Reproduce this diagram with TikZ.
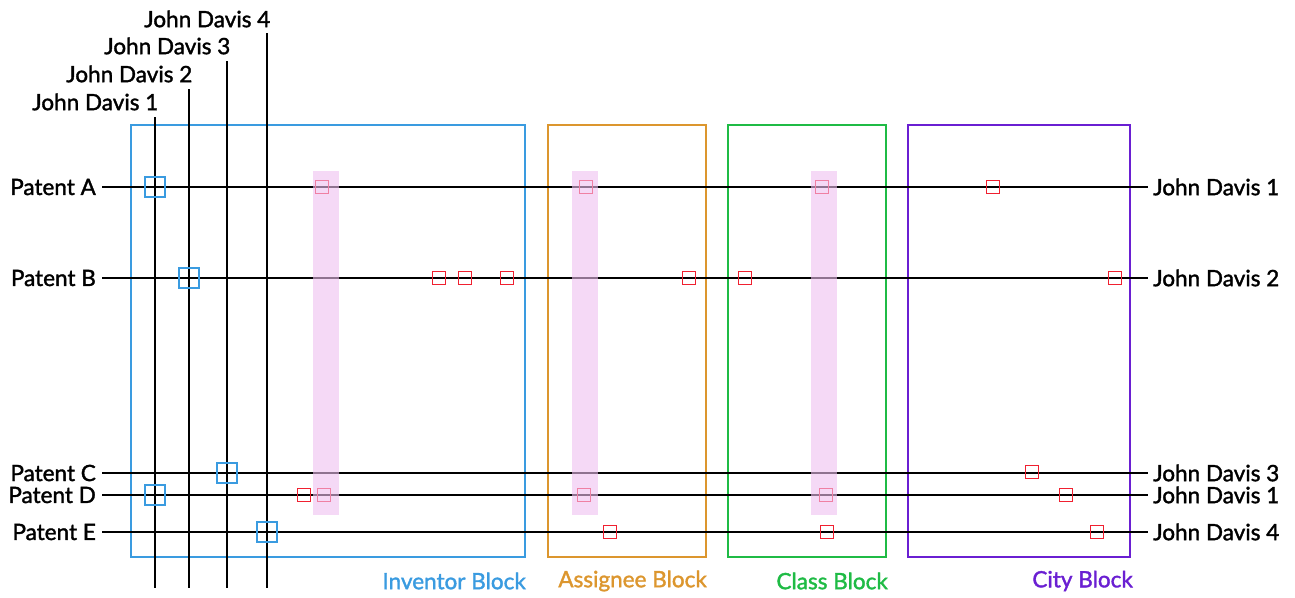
\documentclass[tikz,border=0pt]{standalone}
\usepackage{fontspec}
\setmainfont{Lato}[FakeBold=1.6]
\definecolor{invblue}{HTML}{3A9BE0}
\definecolor{assorange}{HTML}{DC962E}
\definecolor{clsgreen}{HTML}{1FBB45}
\definecolor{citypurple}{HTML}{6A1FD2}
\definecolor{hitred}{HTML}{F02030}
\definecolor{bandpink}{HTML}{EFC0F0}
\begin{document}
\begin{tikzpicture}[x=1pt,y=-1pt,
  lbl/.style={font=\fontsize{22.5}{22.5}\selectfont, inner sep=0pt},
  thread/.style={line width=2.6pt, black},
  blockbox/.style={line width=2.2pt},
  blocklbl/.style={font=\fontsize{22.5}{22.5}\selectfont, inner sep=0pt, anchor=east},
  invmark/.style={draw=invblue, line width=2pt, minimum size=20pt, inner sep=0pt},
  hitmark/.style={draw=hitred, line width=1.8pt, minimum size=13pt, inner sep=0pt},
  band/.style={fill=bandpink, opacity=0.6}]
\useasboundingbox (0,0) rectangle (1295,597);

% blocks
\draw[blockbox, invblue]    (131,125) rectangle (525,557);
\draw[blockbox, assorange]  (548,125) rectangle (706,557);
\draw[blockbox, clsgreen]   (728,125) rectangle (886,557);
\draw[blockbox, citypurple] (908,125) rectangle (1130,557);
\node[blocklbl, text=invblue]    (lInv)  at (526,581) {Inventor Block};
\node[blocklbl, text=assorange]  (lAss)  at (707,581) {Assignee Block};
\node[blocklbl, text=clsgreen]   (lCls)  at (888,581) {Class Block};
\node[blocklbl, text=citypurple] (lCity) at (1133,581) {City Block};

% inventor threads (vertical)
\foreach \n/\x/\t/\ly in {1/155/117/102, 2/189/89/74, 3/227/61/46, 4/267/33/19}{
  \coordinate (v\n top) at (\x,\t);
  \coordinate (v\n bot) at (\x,588);
  \node[lbl, anchor=east] (vl\n) at (\x+3.5,\ly) {John Davis \n};
  \draw[thread] (v\n top) -- (v\n bot);
}

% patent threads (horizontal)
\foreach \p/\y/\r in {A/187/1, B/278/2, C/473/3, D/495/1, E/532/4}{
  \node[lbl, anchor=east] (pl\p) at (96,\y) {Patent \p};
  \node[lbl, anchor=west] (pr\p) at (1153,\y) {John Davis \r};
  \coordinate (h\p s) at (102,\y);
  \coordinate (h\p e) at (1148,\y);
  \draw[thread] (h\p s) -- (h\p e);
}

% red hits
\foreach \x/\y [count=\i] in {322/187, 586/187, 822/187, 993/187,
  439/278, 465/278, 507/278, 689/278, 745/278, 1115/278,
  1032/472, 304/495, 324/495, 584/495, 826/495, 1066/495,
  610/532, 827/532, 1097/532}{
  \node[hitmark] (hit\i) at (\x,\y) {};
}

% highlighted columns
\fill[band] (313,171) rectangle (339,515);
\fill[band] (572,171) rectangle (598,515);
\fill[band] (811,171) rectangle (837,515);

% inventor matches
\node[invmark] (mA) at (155,187) {};
\node[invmark] (mB) at (189,278) {};
\node[invmark] (mC) at (227,473) {};
\node[invmark] (mD) at (155,495) {};
\node[invmark] (mE) at (267,532) {};
\end{tikzpicture}
\end{document}
